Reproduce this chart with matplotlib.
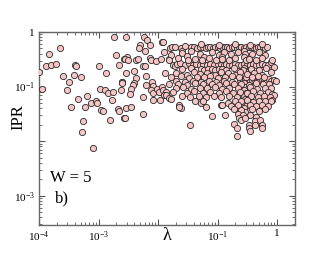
import numpy as np
import matplotlib
matplotlib.use('Agg')
import matplotlib.pyplot as plt
from matplotlib.ticker import LogLocator, NullFormatter, FixedFormatter, FixedLocator

# Werte als (log10 lambda, log10 IPR), aus dem Bild abgelesen
# kleine lambda, wenige Punkte
sparse_pts = [
    (-4.00, -0.74), (-3.95, -1.05), (-3.84, -0.40), (-3.65, -0.30), (-3.88, -0.63),
    (-3.79, -0.60), (-3.71, -0.58), (-3.60, -0.81), (-3.49, -0.91), (-3.53, -1.07),
    (-3.39, -0.60), (-3.38, -0.63), (-3.41, -0.78), (-3.30, -0.82), (-3.34, -1.22),
    (-3.47, -1.37), (-3.20, -1.18), (-3.22, -1.37), (-3.26, -1.64), (-3.12, -1.30),
    (-3.04, -1.26), (-3.02, -1.30), (-2.95, -1.43), (-2.92, -1.44), (-2.99, -0.62),
    (-2.88, -0.76), (-2.98, -1.04), (-2.89, -1.06), (-2.84, -1.11), (-2.76, -1.10),
    (-2.77, -1.24), (-2.80, -1.61), (-2.68, -1.41), (-2.66, -1.44), (-2.57, -1.57),
    (-2.74, -0.10), (-2.71, -0.42), (-2.65, -0.61), (-2.58, -0.50), (-2.63, -1.06),
    (-2.60, -0.92), (-3.28, -1.83), (-3.10, -2.13),
]

# mittlerer Bereich
mid_pts = [
    (-2.54, -0.10), (-2.24, -0.09), (-2.19, -0.15), (-2.31, -0.23), (-2.32, -0.29),
    (-2.22, -0.35), (-2.14, -0.23), (-1.93, -0.19), (-2.52, -0.45), (-2.56, -0.49),
    (-2.50, -0.52), (-2.37, -0.51), (-2.34, -0.49), (-2.25, -0.63), (-2.22, -0.63),
    (-2.13, -0.47), (-2.12, -0.52), (-2.04, -0.54), (-2.40, -0.72), (-2.54, -0.76),
    (-2.20, -0.80), (-2.61, -0.91), (-2.61, -0.94), (-2.37, -0.85), (-2.41, -0.93),
    (-2.42, -0.97), (-2.45, -1.05), (-2.47, -1.14), (-2.20, -0.97), (-2.10, -0.92),
    (-2.09, -0.99), (-2.12, -1.06), (-2.08, -1.12), (-2.01, -1.04), (-1.98, -1.10),
    (-1.94, -1.00), (-1.91, -1.07), (-1.87, -1.10), (-1.90, -1.15), (-1.86, -1.16),
    (-1.82, -1.21), (-1.79, -1.23), (-2.25, -1.20), (-2.09, -1.24), (-1.97, -1.24),
    (-2.53, -1.39), (-2.45, -1.38), (-2.56, -1.57), (-2.26, -1.50), (-1.65, -1.35),
    (-1.62, -1.40), (-1.46, -1.70), (-1.80, -0.30), (-1.76, -0.27), (-1.71, -0.27),
    (-1.61, -0.29), (-1.59, -0.35), (-1.55, -0.26), (-1.81, -0.49), (-1.75, -0.60),
    (-1.72, -0.63), (-1.92, -0.18), (-1.64, -1.33), (-1.64, -1.38),
]

# obere Reihe bei IPR ~ 0.53
band_top = [
    (-1.45, -0.27), (-1.40, -0.28), (-1.35, -0.29), (-1.30, -0.28), (-1.25, -0.27),
    (-1.20, -0.29), (-1.16, -0.28), (-1.12, -0.27), (-1.08, -0.29), (-1.04, -0.28),
    (-1.00, -0.27), (-0.96, -0.29), (-0.92, -0.28), (-0.88, -0.27), (-0.84, -0.28),
    (-0.80, -0.29), (-0.76, -0.27), (-0.72, -0.28), (-0.68, -0.29), (-0.64, -0.27),
    (-0.60, -0.28), (-0.56, -0.29), (-0.52, -0.27), (-0.48, -0.28), (-0.44, -0.28),
    (-0.40, -0.27), (-0.36, -0.29), (-0.32, -0.28), (-0.28, -0.27), (-0.24, -0.28),
    (-0.20, -0.29), (-0.17, -0.27), (-1.27, -0.22), (-0.98, -0.23), (-0.70, -0.22),
    (-0.45, -0.23), (-0.26, -0.22),
]

# zweite Reihe bei IPR ~ 0.25
band_mid = [
    (-1.68, -0.59), (-1.63, -0.56), (-1.55, -0.60), (-1.48, -0.57), (-1.42, -0.61),
    (-1.36, -0.58), (-1.30, -0.60), (-1.24, -0.59), (-1.18, -0.61), (-1.12, -0.58),
    (-1.06, -0.60), (-1.00, -0.59), (-0.95, -0.61), (-0.90, -0.60), (-0.85, -0.58),
    (-0.80, -0.60), (-0.75, -0.61), (-0.70, -0.59), (-0.65, -0.60), (-0.60, -0.61),
    (-0.55, -0.59), (-0.50, -0.60), (-0.45, -0.61), (-0.40, -0.59), (-0.35, -0.60),
    (-0.30, -0.61), (-0.25, -0.59), (-0.20, -0.60), (-0.16, -0.61), (-0.10, -0.55),
]

# dritte Reihe bei IPR ~ 0.13
band_low = [
    (-0.62, -0.88), (-0.58, -0.89), (-0.54, -0.87), (-0.50, -0.88), (-0.46, -0.89),
    (-0.42, -0.88), (-0.38, -0.87), (-0.34, -0.89), (-0.30, -0.88), (-0.26, -0.87),
    (-0.22, -0.89), (-0.18, -0.88), (-0.14, -0.87), (-0.10, -0.89), (-0.06, -0.88),
    (-0.02, -0.89),
]

# Saeule bei lambda ~ 0.28
column_pts = [
    (-0.55, -0.34), (-0.54, -0.40), (-0.56, -0.46), (-0.53, -0.52), (-0.55, -0.66),
    (-0.54, -0.72), (-0.56, -0.78), (-0.53, -0.83), (-0.55, -0.94), (-0.54, -1.00),
    (-0.56, -1.06), (-0.53, -1.12), (-0.55, -1.17), (-0.54, -1.23), (-0.56, -1.29),
    (-0.53, -1.35), (-0.55, -1.40), (-0.54, -1.46),
]

# dichter Bereich, verstreute Punkte
dense_pts = [
    (-1.90, -0.36), (-1.78, -0.42), (-1.60, -0.38), (-1.52, -0.44), (-1.44, -0.35),
    (-1.30, -0.40), (-1.22, -0.45), (-1.10, -0.37), (-0.98, -0.42), (-0.90, -0.36),
    (-0.93, -0.45), (-0.78, -0.41), (-0.66, -0.37), (-0.42, -0.40), (-0.30, -0.36),
    (-0.20, -0.43),
    (-1.95, -0.50), (-1.81, -0.52), (-1.66, -0.48), (-1.50, -0.51), (-1.38, -0.49),
    (-1.26, -0.52), (-1.15, -0.48), (-1.02, -0.51), (-0.93, -0.49), (-0.80, -0.52),
    (-0.70, -0.48), (-0.47, -0.50), (-0.35, -0.52), (-0.25, -0.48), (-0.08, -0.51),
    (-1.60, -0.68), (-1.45, -0.66), (-1.28, -0.68), (-1.22, -0.69), (-1.16, -0.67),
    (-1.10, -0.68), (-1.04, -0.69), (-0.98, -0.68), (-0.92, -0.67), (-0.86, -0.69),
    (-0.72, -0.66), (-0.58, -0.69), (-0.44, -0.67), (-0.30, -0.70), (-0.18, -0.66),
    (-0.05, -0.65), (-0.10, -0.74),
    (-1.88, -0.76), (-1.70, -0.75), (-1.52, -0.78), (-1.40, -0.74), (-1.30, -0.77),
    (-1.18, -0.75), (-1.05, -0.78), (-0.95, -0.74), (-0.82, -0.76), (-0.70, -0.78),
    (-0.62, -0.74), (-0.50, -0.77), (-0.38, -0.75), (-0.26, -0.78),
    (-1.78, -0.83), (-1.62, -0.81), (-1.48, -0.84), (-1.35, -0.82), (-1.22, -0.83),
    (-1.12, -0.80), (-1.00, -0.84), (-0.88, -0.82), (-0.76, -0.81), (-0.64, -0.83),
    (-0.42, -0.82), (-0.32, -0.80), (-0.22, -0.82),
    (-1.70, -0.90), (-1.55, -0.91), (-1.42, -0.89), (-1.28, -0.92), (-1.15, -0.90),
    (-1.02, -0.91), (-0.90, -0.89), (-0.76, -0.92),
    (-1.82, -0.96), (-1.66, -0.95), (-1.52, -0.97), (-1.38, -0.94), (-1.25, -0.96),
    (-1.10, -0.95), (-0.98, -0.97), (-0.85, -0.94), (-0.72, -0.96), (-0.60, -0.95),
    (-0.48, -0.97), (-0.36, -0.94), (-0.24, -0.96), (-0.14, -0.95),
    (-1.70, -1.03), (-1.58, -1.01), (-1.44, -1.04), (-1.30, -1.02), (-1.18, -1.03),
    (-1.05, -1.01), (-0.92, -1.04), (-0.80, -1.02), (-0.66, -1.03), (-0.45, -1.01),
    (-0.33, -1.04), (-0.20, -1.02), (-0.10, -1.03),
    (-1.75, -1.10), (-1.52, -1.11), (-1.40, -1.09), (-1.24, -1.12), (-1.12, -1.10),
    (-0.98, -1.11), (-0.86, -1.09), (-0.74, -1.12), (-0.62, -1.10), (-0.50, -1.11),
    (-0.40, -1.09), (-0.28, -1.12), (-0.16, -1.10), (-0.09, -1.13), (-0.06, -1.16),
    (-1.60, -1.18), (-1.46, -1.19), (-1.32, -1.17), (-1.20, -1.20), (-1.06, -1.18),
    (-0.94, -1.19), (-0.80, -1.17), (-0.68, -1.20), (-0.44, -1.18), (-0.32, -1.19),
    (-0.22, -1.17), (-0.12, -1.20),
    (-1.38, -1.27), (-1.28, -1.30), (-1.20, -1.37), (-1.24, -1.27), (-0.95, -1.33),
    (-0.83, -1.30), (-0.70, -1.26), (-0.60, -1.27), (-0.50, -1.25), (-0.40, -1.28),
    (-0.30, -1.26), (-0.20, -1.27), (-0.09, -1.24), (-0.10, -1.27),
    (-0.92, -1.34), (-0.78, -1.35), (-0.66, -1.33), (-0.46, -1.34), (-0.36, -1.36),
    (-0.26, -1.33), (-0.16, -1.35),
    (-0.72, -1.42), (-0.60, -1.43), (-0.42, -1.41), (-0.30, -1.44), (-0.20, -1.42),
    (-1.10, -1.54), (-0.88, -1.52), (-0.66, -1.51), (-0.57, -1.52), (-0.45, -1.53),
    (-0.36, -1.55),
    (-0.64, -1.58), (-0.61, -1.61), (-0.54, -1.58), (-0.37, -1.64), (-0.28, -1.62),
    (-0.73, -1.68), (-0.47, -1.70), (-0.37, -1.70), (-0.25, -1.71),
    (-0.68, -1.76), (-0.47, -1.76), (-0.45, -1.82), (-0.26, -1.76), (-0.68, -1.90),
]

x_ticks = [1e-4, 1e-3, 1e-2, 1e-1, 1]
x_tick_labels = [r'$10^{-4}$', r'$10^{-3}$', '', r'$10^{-1}$', '1']
y_ticks = [1e-3, 1e-2, 1e-1, 1]
y_tick_labels = [r'$10^{-3}$', '', r'$10^{-1}$', '1']

plt.rcParams['font.family'] = ['Liberation Serif', 'DejaVu Serif']
plt.rcParams['mathtext.fontset'] = 'custom'
plt.rcParams['mathtext.rm'] = 'Liberation Serif'
plt.rcParams['mathtext.it'] = 'Liberation Serif:italic'

all_pts = np.array(sparse_pts + mid_pts + band_top + band_mid + band_low + column_pts + dense_pts)
lam = 10 ** all_pts[:, 0]
ipr = 10 ** all_pts[:, 1]

fig = plt.figure(figsize=(3.32, 2.57), dpi=100)
ax = fig.add_axes([39 / 332, 1 - 225 / 257, 256 / 332, 193 / 257])

ax.scatter(lam, ipr, s=20, facecolor='#f6c4c4', edgecolor='#2a2a2a', linewidth=0.6, zorder=3)

ax.set_xscale('log')
ax.set_yscale('log')
ax.set_xlim(1e-4, 2.0)
ax.set_ylim(2.9e-4, 1.0)

ax.xaxis.set_major_locator(FixedLocator(x_ticks))
ax.xaxis.set_major_formatter(FixedFormatter(x_tick_labels))
ax.yaxis.set_major_locator(FixedLocator(y_ticks))
ax.yaxis.set_major_formatter(FixedFormatter(y_tick_labels))
ax.xaxis.set_minor_locator(LogLocator(base=10, subs=np.arange(2, 10), numticks=20))
ax.yaxis.set_minor_locator(LogLocator(base=10, subs=np.arange(2, 10), numticks=20))
ax.xaxis.set_minor_formatter(NullFormatter())
ax.yaxis.set_minor_formatter(NullFormatter())

ax.tick_params(which='both', direction='in', top=True, right=True, labelsize=8, color='#555555')
ax.tick_params(which='major', length=4, width=0.8, pad=3)
ax.tick_params(which='minor', length=2, width=0.6)
for sp in ax.spines.values():
    sp.set_linewidth(1.0)
    sp.set_color('#666666')

# Achsenbeschriftungen und Texte
fig.text(18 / 332, 1 - 117 / 257, 'IPR', rotation=90, fontsize=12, ha='center', va='center')
fig.text(167 / 332, 1 - 236 / 257, 'λ', fontsize=13, ha='center', va='center')
fig.text(50 / 332, 1 - 178 / 257, 'W = 5', fontsize=12, ha='left', va='center')
fig.text(55 / 332, 1 - 198 / 257, 'b)', fontsize=12, ha='left', va='center')

fig.savefig('out.png', dpi=100)
